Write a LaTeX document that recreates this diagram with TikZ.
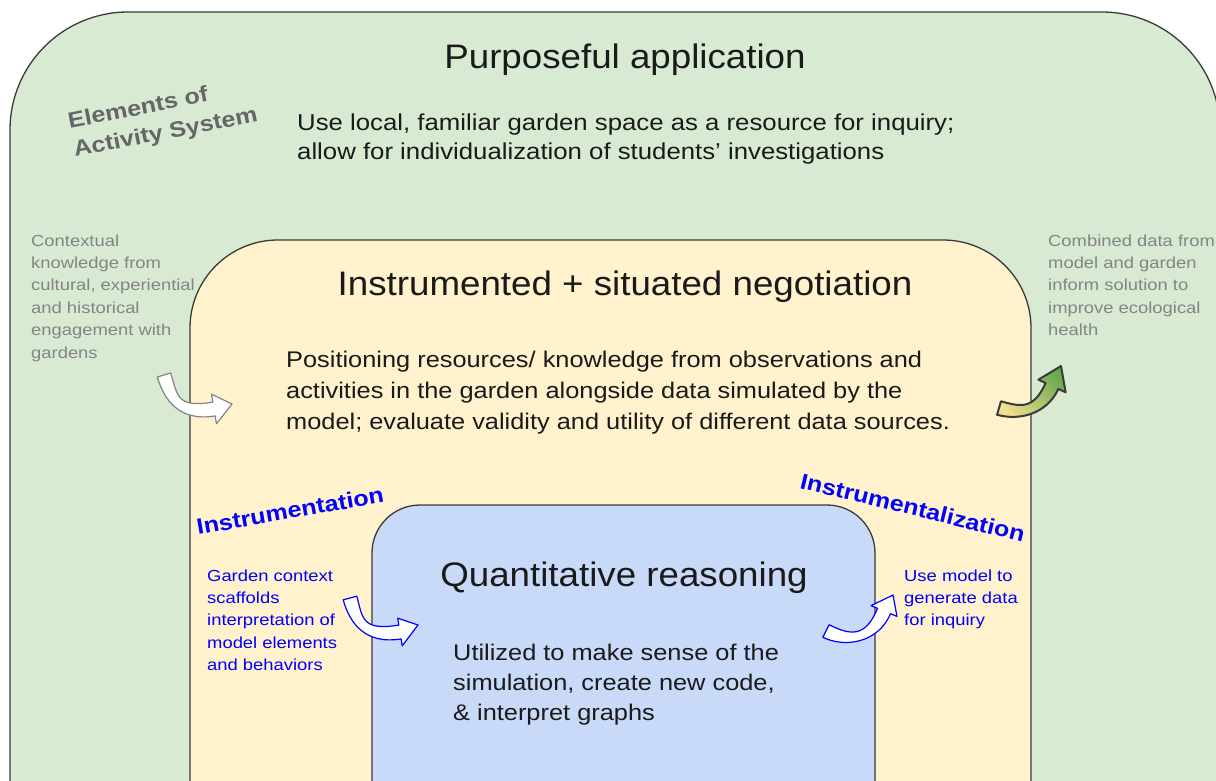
\documentclass[tikz,border=0pt]{standalone}
\usepackage{fontspec}
\setmainfont{Liberation Sans}
\newfontfamily\titlefont[FakeStretch=1.08]{Liberation Sans}
\newfontfamily\bodyfont[FakeStretch=1.12]{Liberation Sans}
\newfontfamily\notefont[FakeStretch=1.15]{Liberation Sans}
\newfontfamily\tagfont[FakeStretch=1.14]{Liberation Sans}
\usetikzlibrary{calc}

\definecolor{greenfill}{HTML}{D9EAD3}
\definecolor{yellowfill}{HTML}{FFF2CC}
\definecolor{bluefill}{HTML}{C9DAF8}
\definecolor{edge}{HTML}{3A3A3A}
\definecolor{ink}{HTML}{1A1A1A}
\definecolor{softgray}{HTML}{848484}
\definecolor{labelgray}{HTML}{666666}
\definecolor{labelblue}{HTML}{0000FF}
\definecolor{arrowyellow}{HTML}{F1E08E}
\definecolor{arrowgreen}{HTML}{6AA84F}

% curved block arrow: style, P0, P1, P2, P3 (centre line as a Bezier), tip, shaft half-width, head half-width
\newcommand{\bendarrow}[8]{%
  \coordinate (ba0) at #2; \coordinate (ba1) at #3;
  \coordinate (ba2) at #4; \coordinate (ba3) at #5;
  \coordinate (batip) at #6;
  \path[#1] ($(ba0)!#7!90:(ba1)$) .. controls ($(ba1)!#7!-90:(ba0)$) and ($(ba2)!#7!90:(ba3)$) .. ($(ba3)!#7!-90:(ba2)$)
    -- ($(ba3)!#8!-90:(ba2)$) -- (batip) -- ($(ba3)!#8!90:(ba2)$)
    -- ($(ba3)!#7!90:(ba2)$) .. controls ($(ba2)!#7!-90:(ba3)$) and ($(ba1)!#7!90:(ba0)$) .. ($(ba0)!#7!-90:(ba1)$) -- cycle;
}

% multi-line nodes are placed by the baseline of their last line
\tikzset{
  layer/.style={draw=edge, line width=1.3pt},
  title/.style={inner sep=0pt, anchor=base, text=ink, font=\titlefont\fontsize{34}{38}\selectfont},
  body/.style={inner sep=0pt, text=ink, align=left, anchor=base west},
  note/.style={inner sep=0pt, align=left, anchor=base west, font=\notefont\fontsize{16}{22.4}\selectfont},
  tag/.style={inner sep=0pt, anchor=base west, align=left, font=\tagfont\bfseries\fontsize{22}{29}\selectfont},
}

\begin{document}
\begin{tikzpicture}[x=1pt,y=-1pt]
\useasboundingbox (0,0) rectangle (1216,781);
\fill[white] (0,0) rectangle (1216,781);

\begin{scope}
  \clip (0,0) rectangle (1216,781);
  % nested activity-system layers
  \draw[layer, fill=greenfill, rounded corners=118pt] (10,12) rectangle (1220,940);
  \draw[layer, fill=yellowfill, rounded corners=88pt] (190,240) rectangle (1031,900);
  \draw[layer, fill=bluefill, rounded corners=48pt] (372,505) rectangle (875,880);
\end{scope}

% outer layer
\node[title] (purp) at (625,69) {Purposeful application};
\node[body, font=\bodyfont\fontsize{23}{29}\selectfont] (purptxt) at (297,160)
  {Use local, familiar garden space as a resource for inquiry;\\allow for individualization of students’ investigations};
\node[tag, text=labelgray, rotate=11] (elems) at (75,157)
  {Elements of\\Activity System};
\node[note, text=softgray] (context) at (31,358)
  {Contextual\\knowledge from\\cultural, experiential\\and historical\\engagement with\\gardens};
\node[note, text=softgray] (combined) at (1048,335.6)
  {Combined data from\\model and garden\\inform solution to\\improve ecological\\health};

% middle layer
\node[title] (negot) at (625,295) {Instrumented + situated negotiation};
\node[body, font=\bodyfont\fontsize{22.65}{31}\selectfont] (negtxt) at (286,429)
  {Positioning resources/ knowledge from observations and\\activities in the garden alongside data simulated by the\\model; evaluate validity and utility of different data sources.};
\node[tag, text=labelblue, rotate=10] (instr) at (198,535) {Instrumentation};
\node[tag, text=labelblue, rotate=-13.6] (instrz) at (799,488) {Instrumentalization};
\node[note, text=labelblue] (gardenctx) at (207,670.6)
  {Garden context\\scaffolds\\interpretation of\\model elements\\and behaviors};
\node[note, text=labelblue] (usemodel) at (904,625.8)
  {Use model to\\generate data\\for inquiry};

% inner layer
\node[title] (quant) at (624,586) {Quantitative reasoning};
\node[body, font=\bodyfont\fontsize{22.65}{30}\selectfont] (quanttxt) at (453,720)
  {Utilized to make sense of the\\simulation, create new code,\\\& interpret graphs};

% bent arrows
\bendarrow{draw=softgray, fill=white, line width=1.2pt, line join=round}
  {(164,375)}{(171,398)}{(178,415)}{(214,409)}{(232,404)}{7pt}{15pt}
\bendarrow{draw=edge, line width=2pt, line join=round, bottom color=arrowyellow, top color=arrowgreen, shading angle=-45}
  {(999,408)}{(1020,414)}{(1040,412)}{(1052,386)}{(1061,366)}{7pt}{15pt}
\bendarrow{draw=labelblue, fill=white, line width=1.2pt, line join=round}
  {(350,598)}{(356,620)}{(363,638)}{(400,632)}{(418,625)}{7pt}{14pt}
\bendarrow{draw=labelblue, fill=white, line width=1.2pt, line join=round}
  {(826,631)}{(848,642)}{(872,640)}{(884,611)}{(893,595)}{7pt}{14pt}
\end{tikzpicture}
\end{document}
